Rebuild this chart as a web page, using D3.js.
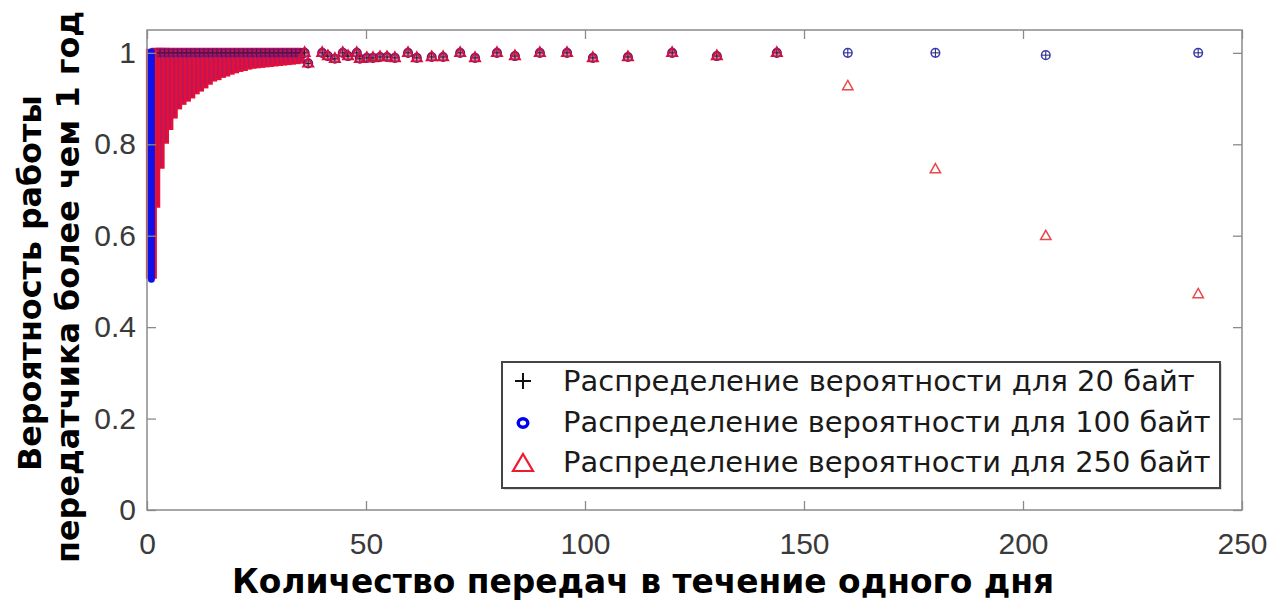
<!DOCTYPE html>
<html>
<head>
<meta charset="utf-8">
<script src="https://cdn.jsdelivr.net/npm/d3@7"></script>
<style>
  html, body { margin: 0; padding: 0; background: #fff; }
  svg { display: block; }
</style>
</head>
<body>
<svg id="chart" width="1275" height="602"></svg>
<script>
// ---- data -------------------------------------------------------------
// Dense region: transmissions per day (integer x) and the lowest probability
// reached in that column for the 250-byte packet; each column runs up to 1.
const denseX = [1, 2, 3, 4, 5, 6, 7, 8, 9, 10, 11, 12, 13, 14, 15, 16, 17, 18,
  19, 20, 21, 22, 23, 24, 25, 26, 27, 28, 29, 30, 31, 32, 33, 34, 35];
const denseLow250 = [0.51, 0.67, 0.755, 0.81, 0.84, 0.865, 0.885, 0.895, 0.902,
  0.909, 0.918, 0.924, 0.931, 0.939, 0.946, 0.949, 0.954, 0.957, 0.961, 0.964,
  0.967, 0.969, 0.972, 0.974, 0.975, 0.976, 0.977, 0.978, 0.979, 0.98, 0.981,
  0.982, 0.983, 0.984, 0.985];
// 100-byte column at one transmission per day
const denseLow100 = [0.505];
const denseTop = 1.0;

// Sparse points (higher transmission rates)
const sparseX = [36, 36.8, 40, 41.3, 42.9, 44.7, 45.9, 47.9, 48.6, 50.2, 51.6,
  53.2, 54.8, 56.6, 59.6, 61.6, 65, 67.6, 71.5, 74.9, 79.9, 84, 89.7, 95.9,
  101.8, 109.8, 119.9, 130.1, 143.8, 160, 180, 205.2, 240];
const p20 = [1.0, 0.977, 1.0, 0.993, 0.987, 1.0, 0.993, 1.0, 0.987, 0.989, 0.989,
  0.991, 0.991, 0.989, 1.0, 0.989, 0.991, 0.991, 1.0, 0.989, 1.0, 0.993, 1.0, 1.0,
  0.989, 0.991, 1.0, 0.993, 1.0, 1.0, 1.0, 0.995, 1.0];
const p100 = [1.0, 0.977, 1.0, 0.993, 0.987, 1.0, 0.993, 1.0, 0.987, 0.989, 0.989,
  0.991, 0.991, 0.989, 1.0, 0.989, 0.991, 0.991, 1.0, 0.989, 1.0, 0.993, 1.0, 1.0,
  0.989, 0.991, 1.0, 0.993, 1.0, 1.0, 1.0, 0.995, 1.0];
const p250 = [1.0, 0.977, 1.0, 0.993, 0.987, 1.0, 0.993, 1.0, 0.987, 0.989, 0.989,
  0.991, 0.991, 0.989, 1.0, 0.989, 0.991, 0.991, 1.0, 0.989, 1.0, 0.993, 1.0, 1.0,
  0.989, 0.991, 1.0, 0.993, 1.0, 0.927, 0.745, 0.599, 0.472];

const xTicks = [0, 50, 100, 150, 200, 250];
const yTicks = [0, 0.2, 0.4, 0.6, 0.8, 1];
const yTickLabels = ["0", "0.2", "0.4", "0.6", "0.8", "1"];

const xTitle = "Количество передач в течение одного дня";
const yTitle = ["Вероятность работы", "передатчика более чем 1 год"];
const legendLabels = [
  "Распределение вероятности для 20 байт",
  "Распределение вероятности для 100 байт",
  "Распределение вероятности для 250 байт"
];

// ---- layout -----------------------------------------------------------
const svg = d3.select("#chart");
const L = 147, R = 1242, T = 30, B = 510;
const x = d3.scaleLinear().domain([0, 250]).range([L, R]);
const y = d3.scaleLinear().domain([0, 1.05]).range([B, T]);

const RED = "#f0102a", AXIS = "#8a8a8a";

// markers
const triPath = "M0,-5.8L5.2,3.4L-5.2,3.4Z";
function plus(g, cx, cy, h, w, c) {
  g.append("path").attr("d", `M${cx - h},${cy}H${cx + h}M${cx},${cy - h}V${cy + h}`)
    .attr("stroke", c || "#111").attr("stroke-width", w).attr("fill", "none");
}

// ---- dense columns ------------------------------------------------------
const dense = svg.append("g");
dense.selectAll("line.red").data(denseX.slice(1)).join("line")
  .attr("x1", d => x(d)).attr("x2", d => x(d))
  .attr("y1", (d, i) => y(denseLow250[i + 1]) + 4).attr("y2", y(denseTop) - 5)
  .attr("stroke", "#e4103a").attr("stroke-width", 9);
dense.selectAll("line.pur").data(denseX.slice(1)).join("line")
  .attr("x1", d => x(d) + 1).attr("x2", d => x(d) + 1)
  .attr("y1", (d, i) => y(denseLow250[i + 1]) + 2).attr("y2", y(denseTop) - 3)
  .attr("stroke", "#7a2090").attr("stroke-width", 1.8).attr("opacity", 0.4);
// top row of overlapping markers
denseX.slice(1).forEach(d => {
  dense.append("circle").attr("cx", x(d)).attr("cy", y(denseTop)).attr("r", 4)
    .attr("fill", "none").attr("stroke", "#6a1a8a").attr("stroke-width", 1.4).attr("opacity", 0.75);
  plus(dense, x(d), y(denseTop), 4, 0.8, "#3a1030");
});
// first column: 250-byte under 100-byte
dense.append("line")
  .attr("x1", x(denseX[0])).attr("x2", x(denseX[0]))
  .attr("y1", y(denseLow250[0]) + 2).attr("y2", y(denseTop) - 4)
  .attr("stroke", RED).attr("stroke-width", 11);
dense.append("line")
  .attr("x1", x(denseX[0])).attr("x2", x(denseX[0]))
  .attr("y1", y(denseLow100[0])).attr("y2", y(denseTop) - 1)
  .attr("stroke", "#1010e8").attr("stroke-width", 7).attr("stroke-linecap", "round");

// ---- sparse markers -------------------------------------------------------
const sp = svg.append("g");
sparseX.forEach((d, i) => {
  const far = d > 150;
  if (!far) {
    sp.append("circle").attr("cx", x(d)).attr("cy", y(p100[i])).attr("r", 4.4)
      .attr("fill", "#b02860").attr("opacity", 0.55);
  }
  sp.append("circle").attr("cx", x(d)).attr("cy", y(p100[i])).attr("r", 4.3)
    .attr("fill", "none").attr("stroke", far ? "#3a3ab8" : "#5a1a80").attr("stroke-width", 1.5);
  plus(sp, x(d), y(p20[i]), 4, 1, far ? "#222266" : "#2a1030");
  sp.append("path").attr("d", triPath)
    .attr("transform", `translate(${x(d)},${y(p250[i])})`)
    .attr("fill", "none").attr("stroke", far ? "#e8484a" : "#d8103c").attr("stroke-width", far ? 1.5 : 1.7);
});

// ---- axes -------------------------------------------------------------
const tickLen = 9;
const gx = svg.append("g").attr("transform", `translate(0,${B})`)
  .call(d3.axisBottom(x).tickValues(xTicks).tickSizeInner(-tickLen).tickSizeOuter(0).tickPadding(23));
const gxt = svg.append("g").attr("transform", `translate(0,${T})`)
  .call(d3.axisTop(x).tickValues(xTicks).tickSizeInner(-tickLen).tickSizeOuter(0).tickFormat(""));
const gy = svg.append("g").attr("transform", `translate(${L},0)`)
  .call(d3.axisLeft(y).tickValues(yTicks).tickSizeInner(-tickLen).tickSizeOuter(0).tickPadding(11)
    .tickFormat((d, i) => yTickLabels[i]));
const gyr = svg.append("g").attr("transform", `translate(${R},0)`)
  .call(d3.axisRight(y).tickValues(yTicks).tickSizeInner(-tickLen).tickSizeOuter(0).tickFormat(""));
[gx, gxt, gy, gyr].forEach(g => {
  g.select(".domain").remove();
  g.selectAll(".tick line").attr("stroke", AXIS).attr("stroke-width", 1.3);
  g.selectAll("text").attr("fill", "#3a3a3a").style("font-family", "'Liberation Sans', Arial, sans-serif")
    .style("font-size", "30px");
});
svg.append("rect").attr("x", L).attr("y", T).attr("width", R - L).attr("height", B - T)
  .attr("fill", "none").attr("stroke", AXIS).attr("stroke-width", 1.5);

// ---- legend -------------------------------------------------------------
const lg = svg.append("g");
lg.append("rect").attr("x", 504).attr("y", 364).attr("width", 718).attr("height", 126)
  .attr("fill", "#bbb").attr("opacity", 0.5);
lg.append("rect").attr("x", 502).attr("y", 362).attr("width", 718).attr("height", 126)
  .attr("fill", "#fff").attr("stroke", "#444").attr("stroke-width", 2);
const rowY = [381, 422, 462];
plus(lg, 523, rowY[0], 8, 2);
lg.append("ellipse").attr("cx", 523).attr("cy", rowY[1] + 1).attr("rx", 4.8).attr("ry", 4.2)
  .attr("fill", "none").attr("stroke", "#0000f0").attr("stroke-width", 3.4);
lg.append("path").attr("d", "M523,454L533,471L513,471Z").attr("fill", "none")
  .attr("stroke", "#f01a30").attr("stroke-width", 2.2);
const legTexts = lg.selectAll("text.leg").data(legendLabels).join("text")
  .attr("x", 563).attr("y", (d, i) => rowY[i] + 10)
  .attr("fill", "#1a1a1a")
  .style("font-family", "'DejaVu Sans', Verdana, sans-serif").style("font-size", "22px")
  .text(d => d);

// ---- titles -------------------------------------------------------------
const titleFont = "'DejaVu Sans', Verdana, sans-serif";
const xt = svg.append("text").attr("x", 643).attr("y", 593).attr("text-anchor", "middle")
  .attr("fill", "#000").style("font-family", titleFont).style("font-weight", "bold")
  .style("font-size", "27px").text(xTitle);
const yt1 = svg.append("text").attr("transform", "translate(41,283) rotate(-90)")
  .attr("text-anchor", "middle").attr("fill", "#000").style("font-family", titleFont)
  .style("font-weight", "bold").style("font-size", "27px").text(yTitle[0]);
const yt2 = svg.append("text").attr("transform", "translate(79,287) rotate(-90)")
  .attr("text-anchor", "middle").attr("fill", "#000").style("font-family", titleFont)
  .style("font-weight", "bold").style("font-size", "27px").text(yTitle[1]);

// size text to its measured span
function fit(sel, base, target) {
  const w = sel.node().getComputedTextLength();
  sel.style("font-size", (base * target / w).toFixed(2) + "px");
}
fit(xt, 27, 822);
fit(yt1, 27, 376);
fit(yt2, 27, 552);
legTexts.each(function (d, i) {
  fit(d3.select(this), 22, [632, 648, 648][i]);
});
</script>
</body>
</html>
